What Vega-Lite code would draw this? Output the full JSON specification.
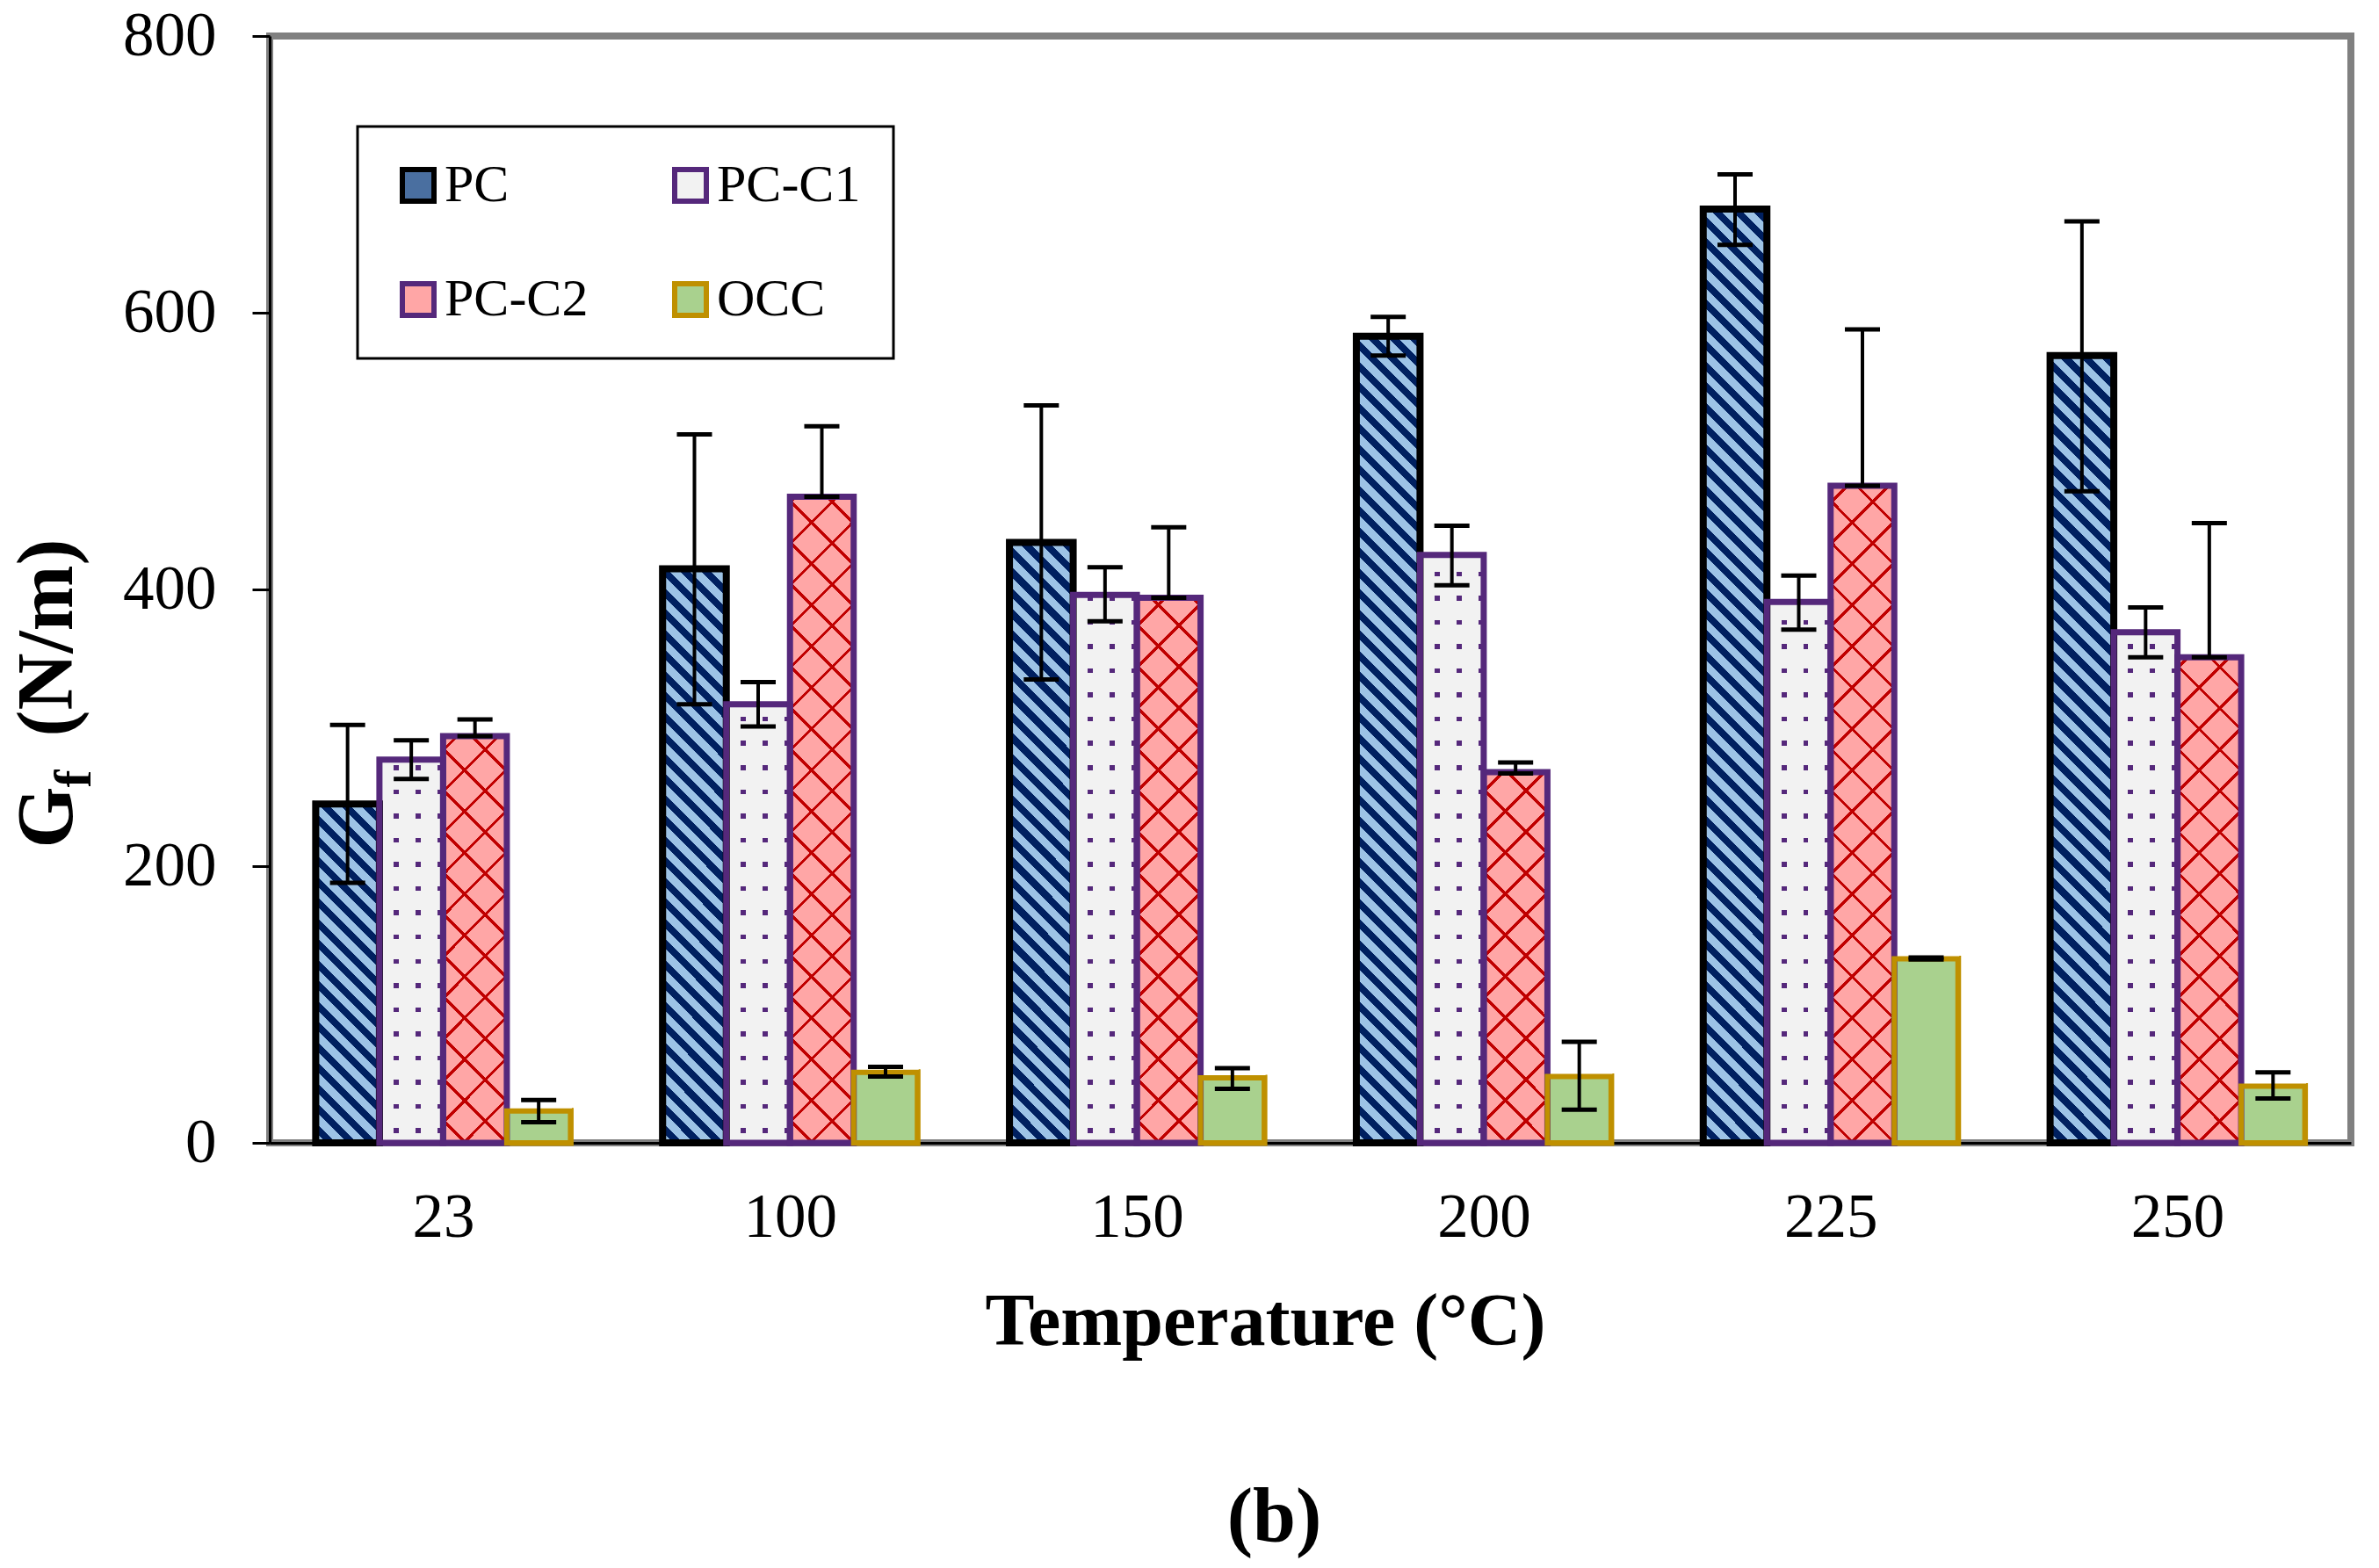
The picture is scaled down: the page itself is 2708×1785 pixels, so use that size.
{
"$schema": "https://vega.github.io/schema/vega-lite/v6.json",
"width": 2369, "height": 1260,
"autosize": {"type": "none"},
"padding": {"left": 307, "top": 41, "right": 32, "bottom": 484},
"background": "white",
"title": {"text": "(b)", "orient": "bottom", "anchor": "middle", "frame": "group", "dx": -41, "offset": 138, "font": "Liberation Serif", "fontSize": 88, "fontWeight": "bold", "color": "black"},
"data": {"values": [
{"T":"23","series":"PC","value":245,"lo":188,"hi":302},
{"T":"23","series":"PC-C1","value":277,"lo":263,"hi":291},
{"T":"23","series":"PC-C2","value":294,"lo":294,"hi":306},
{"T":"23","series":"OCC","value":23,"lo":15,"hi":31},
{"T":"100","series":"PC","value":415,"lo":317,"hi":512},
{"T":"100","series":"PC-C1","value":317,"lo":301,"hi":333},
{"T":"100","series":"PC-C2","value":467,"lo":467,"hi":518},
{"T":"100","series":"OCC","value":51,"lo":48,"hi":55},
{"T":"150","series":"PC","value":434,"lo":335,"hi":533},
{"T":"150","series":"PC-C1","value":396,"lo":377,"hi":416},
{"T":"150","series":"PC-C2","value":394,"lo":394,"hi":445},
{"T":"150","series":"OCC","value":47,"lo":39,"hi":54},
{"T":"200","series":"PC","value":583,"lo":569,"hi":597},
{"T":"200","series":"PC-C1","value":425,"lo":403,"hi":446},
{"T":"200","series":"PC-C2","value":268,"lo":267,"hi":275},
{"T":"200","series":"OCC","value":48,"lo":24,"hi":73},
{"T":"225","series":"PC","value":675,"lo":649,"hi":700},
{"T":"225","series":"PC-C1","value":391,"lo":371,"hi":410},
{"T":"225","series":"PC-C2","value":475,"lo":475,"hi":588},
{"T":"225","series":"OCC","value":133,"lo":132.5,"hi":134},
{"T":"250","series":"PC","value":569,"lo":471,"hi":666},
{"T":"250","series":"PC-C1","value":369,"lo":351,"hi":387},
{"T":"250","series":"PC-C2","value":351,"lo":351,"hi":448},
{"T":"250","series":"OCC","value":41,"lo":32,"hi":51}
]},
"encoding": {
  "x": {"field": "T", "type": "nominal", "sort": ["23","100","150","200","225","250"],
        "scale": {"paddingInner": 0.2655, "paddingOuter": 0.1327},
        "axis": {"title": "Temperature (°C)", "labelAngle": 0, "tickBand": "extent", "tickSize": -20, "tickWidth": 3, "tickColor": "black",
                 "domainColor": "black", "domainWidth": 3, "labelFontSize": 71, "labelBaseline": "alphabetic", "labelPadding": 126,
                 "titleFontSize": 84, "titleFontWeight": "bold", "titleX": 1133, "titleY": 229, "titleAlign": "center", "titleBaseline": "alphabetic", "titleAngle": 0}},
  "xOffset": {"field": "series", "type": "nominal", "sort": ["PC","PC-C1","PC-C2","OCC"], "scale": {"paddingInner": 0, "paddingOuter": 0}}
},
"layer": [
{"layer": [
{"mark": {"type": "bar", "strokeWidth": 7, "opacity": 1},
 "encoding": {
   "y": {"field": "value", "type": "quantitative", "stack": null, "scale": {"domain": [0, 800], "nice": false},
         "axis": {"orient": "left", "title": "(N/m)", "values": [0,200,400,600,800], "tickSize": 20, "tickWidth": 3, "tickColor": "black",
                  "domainColor": "black", "domainWidth": 3, "labelFontSize": 71, "labelPadding": 41, "grid": false,
                  "titleFontSize": 90, "titleFontWeight": "bold", "titleAngle": -90, "titleAlign": "left", "titleBaseline": "alphabetic",
                  "titleX": -226, "titleY": 797}},
   "fill": {"field": "series", "type": "nominal", "scale": {"domain": ["PC","PC-C1","PC-C2","OCC"], "range": ["#4A6FA0","#F2F2F2","#FFA6A6","#A9D18E"]},
            "legend": {"title": null, "orient": "none", "legendX": 100, "legendY": 103, "columns": 2, "direction": "horizontal", "symbolType": "square", "symbolSize": 1296, "symbolStrokeWidth": 6,
                       "labelFontSize": 60, "labelFont": "Liberation Serif", "labelColor": "black", "labelOffset": 0, "labelLimit": 400, "padding": 37, "symbolOffset": 2, "rowPadding": 70, "columnPadding": 84,
                       "strokeColor": "black", "fillColor": "white"}},
   "stroke": {"field": "series", "type": "nominal", "scale": {"domain": ["PC","PC-C1","PC-C2","OCC"], "range": ["#000000","#55287B","#55287B","#BF9000"]},
            "legend": {"title": null, "orient": "none", "legendX": 100, "legendY": 103, "columns": 2, "direction": "horizontal", "symbolType": "square", "symbolSize": 1296, "symbolStrokeWidth": 6,
                       "labelFontSize": 60, "labelFont": "Liberation Serif", "labelColor": "black", "labelOffset": 0, "labelLimit": 400, "padding": 37, "symbolOffset": 2, "rowPadding": 70, "columnPadding": 84,
                       "strokeColor": "black", "fillColor": "white"}}
 }},
{"transform": [{"filter": "datum.series === 'PC'"}],
 "mark": {"type": "bar", "strokeWidth": 0, "fill": {"gradient": "linear", "x1": 1, "y1": 0, "x2": 0.9301, "y2": 1.0613, "stops": [
{"offset":0,"color":"#002060"},{"offset":0.0095,"color":"#002060"},{"offset":0.0095,"color":"#9DC3E6"},{"offset":0.02,"color":"#9DC3E6"},
{"offset":0.02,"color":"#002060"},{"offset":0.0295,"color":"#002060"},{"offset":0.0295,"color":"#9DC3E6"},{"offset":0.04,"color":"#9DC3E6"},
{"offset":0.04,"color":"#002060"},{"offset":0.0495,"color":"#002060"},{"offset":0.0495,"color":"#9DC3E6"},{"offset":0.06,"color":"#9DC3E6"},
{"offset":0.06,"color":"#002060"},{"offset":0.0695,"color":"#002060"},{"offset":0.0695,"color":"#9DC3E6"},{"offset":0.08,"color":"#9DC3E6"},
{"offset":0.08,"color":"#002060"},{"offset":0.0895,"color":"#002060"},{"offset":0.0895,"color":"#9DC3E6"},{"offset":0.1,"color":"#9DC3E6"},
{"offset":0.1,"color":"#002060"},{"offset":0.1095,"color":"#002060"},{"offset":0.1095,"color":"#9DC3E6"},{"offset":0.12,"color":"#9DC3E6"},
{"offset":0.12,"color":"#002060"},{"offset":0.1295,"color":"#002060"},{"offset":0.1295,"color":"#9DC3E6"},{"offset":0.14,"color":"#9DC3E6"},
{"offset":0.14,"color":"#002060"},{"offset":0.1495,"color":"#002060"},{"offset":0.1495,"color":"#9DC3E6"},{"offset":0.16,"color":"#9DC3E6"},
{"offset":0.16,"color":"#002060"},{"offset":0.1695,"color":"#002060"},{"offset":0.1695,"color":"#9DC3E6"},{"offset":0.18,"color":"#9DC3E6"},
{"offset":0.18,"color":"#002060"},{"offset":0.1895,"color":"#002060"},{"offset":0.1895,"color":"#9DC3E6"},{"offset":0.2,"color":"#9DC3E6"},
{"offset":0.2,"color":"#002060"},{"offset":0.2095,"color":"#002060"},{"offset":0.2095,"color":"#9DC3E6"},{"offset":0.22,"color":"#9DC3E6"},
{"offset":0.22,"color":"#002060"},{"offset":0.2295,"color":"#002060"},{"offset":0.2295,"color":"#9DC3E6"},{"offset":0.24,"color":"#9DC3E6"},
{"offset":0.24,"color":"#002060"},{"offset":0.2495,"color":"#002060"},{"offset":0.2495,"color":"#9DC3E6"},{"offset":0.26,"color":"#9DC3E6"},
{"offset":0.26,"color":"#002060"},{"offset":0.2695,"color":"#002060"},{"offset":0.2695,"color":"#9DC3E6"},{"offset":0.28,"color":"#9DC3E6"},
{"offset":0.28,"color":"#002060"},{"offset":0.2895,"color":"#002060"},{"offset":0.2895,"color":"#9DC3E6"},{"offset":0.3,"color":"#9DC3E6"},
{"offset":0.3,"color":"#002060"},{"offset":0.3095,"color":"#002060"},{"offset":0.3095,"color":"#9DC3E6"},{"offset":0.32,"color":"#9DC3E6"},
{"offset":0.32,"color":"#002060"},{"offset":0.3295,"color":"#002060"},{"offset":0.3295,"color":"#9DC3E6"},{"offset":0.34,"color":"#9DC3E6"},
{"offset":0.34,"color":"#002060"},{"offset":0.3495,"color":"#002060"},{"offset":0.3495,"color":"#9DC3E6"},{"offset":0.36,"color":"#9DC3E6"},
{"offset":0.36,"color":"#002060"},{"offset":0.3695,"color":"#002060"},{"offset":0.3695,"color":"#9DC3E6"},{"offset":0.38,"color":"#9DC3E6"},
{"offset":0.38,"color":"#002060"},{"offset":0.3895,"color":"#002060"},{"offset":0.3895,"color":"#9DC3E6"},{"offset":0.4,"color":"#9DC3E6"},
{"offset":0.4,"color":"#002060"},{"offset":0.4095,"color":"#002060"},{"offset":0.4095,"color":"#9DC3E6"},{"offset":0.42,"color":"#9DC3E6"},
{"offset":0.42,"color":"#002060"},{"offset":0.4295,"color":"#002060"},{"offset":0.4295,"color":"#9DC3E6"},{"offset":0.44,"color":"#9DC3E6"},
{"offset":0.44,"color":"#002060"},{"offset":0.4495,"color":"#002060"},{"offset":0.4495,"color":"#9DC3E6"},{"offset":0.46,"color":"#9DC3E6"},
{"offset":0.46,"color":"#002060"},{"offset":0.4695,"color":"#002060"},{"offset":0.4695,"color":"#9DC3E6"},{"offset":0.48,"color":"#9DC3E6"},
{"offset":0.48,"color":"#002060"},{"offset":0.4895,"color":"#002060"},{"offset":0.4895,"color":"#9DC3E6"},{"offset":0.5,"color":"#9DC3E6"},
{"offset":0.5,"color":"#002060"},{"offset":0.5095,"color":"#002060"},{"offset":0.5095,"color":"#9DC3E6"},{"offset":0.52,"color":"#9DC3E6"},
{"offset":0.52,"color":"#002060"},{"offset":0.5295,"color":"#002060"},{"offset":0.5295,"color":"#9DC3E6"},{"offset":0.54,"color":"#9DC3E6"},
{"offset":0.54,"color":"#002060"},{"offset":0.5495,"color":"#002060"},{"offset":0.5495,"color":"#9DC3E6"},{"offset":0.56,"color":"#9DC3E6"},
{"offset":0.56,"color":"#002060"},{"offset":0.5695,"color":"#002060"},{"offset":0.5695,"color":"#9DC3E6"},{"offset":0.58,"color":"#9DC3E6"},
{"offset":0.58,"color":"#002060"},{"offset":0.5895,"color":"#002060"},{"offset":0.5895,"color":"#9DC3E6"},{"offset":0.6,"color":"#9DC3E6"},
{"offset":0.6,"color":"#002060"},{"offset":0.6095,"color":"#002060"},{"offset":0.6095,"color":"#9DC3E6"},{"offset":0.62,"color":"#9DC3E6"},
{"offset":0.62,"color":"#002060"},{"offset":0.6295,"color":"#002060"},{"offset":0.6295,"color":"#9DC3E6"},{"offset":0.64,"color":"#9DC3E6"},
{"offset":0.64,"color":"#002060"},{"offset":0.6495,"color":"#002060"},{"offset":0.6495,"color":"#9DC3E6"},{"offset":0.66,"color":"#9DC3E6"},
{"offset":0.66,"color":"#002060"},{"offset":0.6695,"color":"#002060"},{"offset":0.6695,"color":"#9DC3E6"},{"offset":0.68,"color":"#9DC3E6"},
{"offset":0.68,"color":"#002060"},{"offset":0.6895,"color":"#002060"},{"offset":0.6895,"color":"#9DC3E6"},{"offset":0.7,"color":"#9DC3E6"},
{"offset":0.7,"color":"#002060"},{"offset":0.7095,"color":"#002060"},{"offset":0.7095,"color":"#9DC3E6"},{"offset":0.72,"color":"#9DC3E6"},
{"offset":0.72,"color":"#002060"},{"offset":0.7295,"color":"#002060"},{"offset":0.7295,"color":"#9DC3E6"},{"offset":0.74,"color":"#9DC3E6"},
{"offset":0.74,"color":"#002060"},{"offset":0.7495,"color":"#002060"},{"offset":0.7495,"color":"#9DC3E6"},{"offset":0.76,"color":"#9DC3E6"},
{"offset":0.76,"color":"#002060"},{"offset":0.7695,"color":"#002060"},{"offset":0.7695,"color":"#9DC3E6"},{"offset":0.78,"color":"#9DC3E6"},
{"offset":0.78,"color":"#002060"},{"offset":0.7895,"color":"#002060"},{"offset":0.7895,"color":"#9DC3E6"},{"offset":0.8,"color":"#9DC3E6"},
{"offset":0.8,"color":"#002060"},{"offset":0.8095,"color":"#002060"},{"offset":0.8095,"color":"#9DC3E6"},{"offset":0.82,"color":"#9DC3E6"},
{"offset":0.82,"color":"#002060"},{"offset":0.8295,"color":"#002060"},{"offset":0.8295,"color":"#9DC3E6"},{"offset":0.84,"color":"#9DC3E6"},
{"offset":0.84,"color":"#002060"},{"offset":0.8495,"color":"#002060"},{"offset":0.8495,"color":"#9DC3E6"},{"offset":0.86,"color":"#9DC3E6"},
{"offset":0.86,"color":"#002060"},{"offset":0.8695,"color":"#002060"},{"offset":0.8695,"color":"#9DC3E6"},{"offset":0.88,"color":"#9DC3E6"},
{"offset":0.88,"color":"#002060"},{"offset":0.8895,"color":"#002060"},{"offset":0.8895,"color":"#9DC3E6"},{"offset":0.9,"color":"#9DC3E6"},
{"offset":0.9,"color":"#002060"},{"offset":0.9095,"color":"#002060"},{"offset":0.9095,"color":"#9DC3E6"},{"offset":0.92,"color":"#9DC3E6"},
{"offset":0.92,"color":"#002060"},{"offset":0.9295,"color":"#002060"},{"offset":0.9295,"color":"#9DC3E6"},{"offset":0.94,"color":"#9DC3E6"},
{"offset":0.94,"color":"#002060"},{"offset":0.9495,"color":"#002060"},{"offset":0.9495,"color":"#9DC3E6"},{"offset":0.96,"color":"#9DC3E6"},
{"offset":0.96,"color":"#002060"},{"offset":0.9695,"color":"#002060"},{"offset":0.9695,"color":"#9DC3E6"},{"offset":0.98,"color":"#9DC3E6"},
{"offset":0.98,"color":"#002060"},{"offset":0.9895,"color":"#002060"},{"offset":0.9895,"color":"#9DC3E6"},{"offset":1,"color":"#9DC3E6"}
 ]}},
 "encoding": {"y": {"datum": 700, "type": "quantitative"}, "y2": {"datum": 0}}},
{"transform": [{"filter": "datum.series === 'PC-C1'"}],
 "mark": {"type": "bar", "strokeWidth": 0, "fill": {"gradient": "linear", "x1": 0, "y1": 0, "x2": 1, "y2": 0, "stops": [
{"offset":0,"color":"#F2F2F2"},{"offset":0.2245,"color":"#F2F2F2"},{"offset":0.2245,"color":"#55287B"},{"offset":0.3072,"color":"#55287B"},{"offset":0.3072,"color":"#F2F2F2"},
{"offset":0.569,"color":"#F2F2F2"},{"offset":0.569,"color":"#55287B"},{"offset":0.6515,"color":"#55287B"},{"offset":0.6515,"color":"#F2F2F2"},
{"offset":0.913,"color":"#F2F2F2"},{"offset":0.913,"color":"#55287B"},{"offset":0.996,"color":"#55287B"},{"offset":0.996,"color":"#F2F2F2"},{"offset":1,"color":"#F2F2F2"}
 ]}},
 "encoding": {"y": {"datum": 700, "type": "quantitative"}, "y2": {"datum": 0}}},
{"transform": [{"filter": "datum.series === 'PC-C1'"}],
 "mark": {"type": "bar", "strokeWidth": 0, "fill": {"gradient": "linear", "x1": 0, "y1": 0, "x2": 0, "y2": 1, "stops": [
{"offset":0,"color":"#F2F2F2"},
{"offset":0.01,"color":"#F2F2F2"},{"offset":0.01,"color":"rgba(242,242,242,0)"},{"offset":0.015,"color":"rgba(242,242,242,0)"},{"offset":0.015,"color":"#F2F2F2"},
{"offset":0.035,"color":"#F2F2F2"},{"offset":0.035,"color":"rgba(242,242,242,0)"},{"offset":0.04,"color":"rgba(242,242,242,0)"},{"offset":0.04,"color":"#F2F2F2"},
{"offset":0.06,"color":"#F2F2F2"},{"offset":0.06,"color":"rgba(242,242,242,0)"},{"offset":0.065,"color":"rgba(242,242,242,0)"},{"offset":0.065,"color":"#F2F2F2"},
{"offset":0.085,"color":"#F2F2F2"},{"offset":0.085,"color":"rgba(242,242,242,0)"},{"offset":0.09,"color":"rgba(242,242,242,0)"},{"offset":0.09,"color":"#F2F2F2"},
{"offset":0.11,"color":"#F2F2F2"},{"offset":0.11,"color":"rgba(242,242,242,0)"},{"offset":0.115,"color":"rgba(242,242,242,0)"},{"offset":0.115,"color":"#F2F2F2"},
{"offset":0.135,"color":"#F2F2F2"},{"offset":0.135,"color":"rgba(242,242,242,0)"},{"offset":0.14,"color":"rgba(242,242,242,0)"},{"offset":0.14,"color":"#F2F2F2"},
{"offset":0.16,"color":"#F2F2F2"},{"offset":0.16,"color":"rgba(242,242,242,0)"},{"offset":0.165,"color":"rgba(242,242,242,0)"},{"offset":0.165,"color":"#F2F2F2"},
{"offset":0.185,"color":"#F2F2F2"},{"offset":0.185,"color":"rgba(242,242,242,0)"},{"offset":0.19,"color":"rgba(242,242,242,0)"},{"offset":0.19,"color":"#F2F2F2"},
{"offset":0.21,"color":"#F2F2F2"},{"offset":0.21,"color":"rgba(242,242,242,0)"},{"offset":0.215,"color":"rgba(242,242,242,0)"},{"offset":0.215,"color":"#F2F2F2"},
{"offset":0.235,"color":"#F2F2F2"},{"offset":0.235,"color":"rgba(242,242,242,0)"},{"offset":0.24,"color":"rgba(242,242,242,0)"},{"offset":0.24,"color":"#F2F2F2"},
{"offset":0.26,"color":"#F2F2F2"},{"offset":0.26,"color":"rgba(242,242,242,0)"},{"offset":0.265,"color":"rgba(242,242,242,0)"},{"offset":0.265,"color":"#F2F2F2"},
{"offset":0.285,"color":"#F2F2F2"},{"offset":0.285,"color":"rgba(242,242,242,0)"},{"offset":0.29,"color":"rgba(242,242,242,0)"},{"offset":0.29,"color":"#F2F2F2"},
{"offset":0.31,"color":"#F2F2F2"},{"offset":0.31,"color":"rgba(242,242,242,0)"},{"offset":0.315,"color":"rgba(242,242,242,0)"},{"offset":0.315,"color":"#F2F2F2"},
{"offset":0.335,"color":"#F2F2F2"},{"offset":0.335,"color":"rgba(242,242,242,0)"},{"offset":0.34,"color":"rgba(242,242,242,0)"},{"offset":0.34,"color":"#F2F2F2"},
{"offset":0.36,"color":"#F2F2F2"},{"offset":0.36,"color":"rgba(242,242,242,0)"},{"offset":0.365,"color":"rgba(242,242,242,0)"},{"offset":0.365,"color":"#F2F2F2"},
{"offset":0.385,"color":"#F2F2F2"},{"offset":0.385,"color":"rgba(242,242,242,0)"},{"offset":0.39,"color":"rgba(242,242,242,0)"},{"offset":0.39,"color":"#F2F2F2"},
{"offset":0.41,"color":"#F2F2F2"},{"offset":0.41,"color":"rgba(242,242,242,0)"},{"offset":0.415,"color":"rgba(242,242,242,0)"},{"offset":0.415,"color":"#F2F2F2"},
{"offset":0.435,"color":"#F2F2F2"},{"offset":0.435,"color":"rgba(242,242,242,0)"},{"offset":0.44,"color":"rgba(242,242,242,0)"},{"offset":0.44,"color":"#F2F2F2"},
{"offset":0.46,"color":"#F2F2F2"},{"offset":0.46,"color":"rgba(242,242,242,0)"},{"offset":0.465,"color":"rgba(242,242,242,0)"},{"offset":0.465,"color":"#F2F2F2"},
{"offset":0.485,"color":"#F2F2F2"},{"offset":0.485,"color":"rgba(242,242,242,0)"},{"offset":0.49,"color":"rgba(242,242,242,0)"},{"offset":0.49,"color":"#F2F2F2"},
{"offset":0.51,"color":"#F2F2F2"},{"offset":0.51,"color":"rgba(242,242,242,0)"},{"offset":0.515,"color":"rgba(242,242,242,0)"},{"offset":0.515,"color":"#F2F2F2"},
{"offset":0.535,"color":"#F2F2F2"},{"offset":0.535,"color":"rgba(242,242,242,0)"},{"offset":0.54,"color":"rgba(242,242,242,0)"},{"offset":0.54,"color":"#F2F2F2"},
{"offset":0.56,"color":"#F2F2F2"},{"offset":0.56,"color":"rgba(242,242,242,0)"},{"offset":0.565,"color":"rgba(242,242,242,0)"},{"offset":0.565,"color":"#F2F2F2"},
{"offset":0.585,"color":"#F2F2F2"},{"offset":0.585,"color":"rgba(242,242,242,0)"},{"offset":0.59,"color":"rgba(242,242,242,0)"},{"offset":0.59,"color":"#F2F2F2"},
{"offset":0.61,"color":"#F2F2F2"},{"offset":0.61,"color":"rgba(242,242,242,0)"},{"offset":0.615,"color":"rgba(242,242,242,0)"},{"offset":0.615,"color":"#F2F2F2"},
{"offset":0.635,"color":"#F2F2F2"},{"offset":0.635,"color":"rgba(242,242,242,0)"},{"offset":0.64,"color":"rgba(242,242,242,0)"},{"offset":0.64,"color":"#F2F2F2"},
{"offset":0.66,"color":"#F2F2F2"},{"offset":0.66,"color":"rgba(242,242,242,0)"},{"offset":0.665,"color":"rgba(242,242,242,0)"},{"offset":0.665,"color":"#F2F2F2"},
{"offset":0.685,"color":"#F2F2F2"},{"offset":0.685,"color":"rgba(242,242,242,0)"},{"offset":0.69,"color":"rgba(242,242,242,0)"},{"offset":0.69,"color":"#F2F2F2"},
{"offset":0.71,"color":"#F2F2F2"},{"offset":0.71,"color":"rgba(242,242,242,0)"},{"offset":0.715,"color":"rgba(242,242,242,0)"},{"offset":0.715,"color":"#F2F2F2"},
{"offset":0.735,"color":"#F2F2F2"},{"offset":0.735,"color":"rgba(242,242,242,0)"},{"offset":0.74,"color":"rgba(242,242,242,0)"},{"offset":0.74,"color":"#F2F2F2"},
{"offset":0.76,"color":"#F2F2F2"},{"offset":0.76,"color":"rgba(242,242,242,0)"},{"offset":0.765,"color":"rgba(242,242,242,0)"},{"offset":0.765,"color":"#F2F2F2"},
{"offset":0.785,"color":"#F2F2F2"},{"offset":0.785,"color":"rgba(242,242,242,0)"},{"offset":0.79,"color":"rgba(242,242,242,0)"},{"offset":0.79,"color":"#F2F2F2"},
{"offset":0.81,"color":"#F2F2F2"},{"offset":0.81,"color":"rgba(242,242,242,0)"},{"offset":0.815,"color":"rgba(242,242,242,0)"},{"offset":0.815,"color":"#F2F2F2"},
{"offset":0.835,"color":"#F2F2F2"},{"offset":0.835,"color":"rgba(242,242,242,0)"},{"offset":0.84,"color":"rgba(242,242,242,0)"},{"offset":0.84,"color":"#F2F2F2"},
{"offset":0.86,"color":"#F2F2F2"},{"offset":0.86,"color":"rgba(242,242,242,0)"},{"offset":0.865,"color":"rgba(242,242,242,0)"},{"offset":0.865,"color":"#F2F2F2"},
{"offset":0.885,"color":"#F2F2F2"},{"offset":0.885,"color":"rgba(242,242,242,0)"},{"offset":0.89,"color":"rgba(242,242,242,0)"},{"offset":0.89,"color":"#F2F2F2"},
{"offset":0.91,"color":"#F2F2F2"},{"offset":0.91,"color":"rgba(242,242,242,0)"},{"offset":0.915,"color":"rgba(242,242,242,0)"},{"offset":0.915,"color":"#F2F2F2"},
{"offset":0.935,"color":"#F2F2F2"},{"offset":0.935,"color":"rgba(242,242,242,0)"},{"offset":0.94,"color":"rgba(242,242,242,0)"},{"offset":0.94,"color":"#F2F2F2"},
{"offset":0.96,"color":"#F2F2F2"},{"offset":0.96,"color":"rgba(242,242,242,0)"},{"offset":0.965,"color":"rgba(242,242,242,0)"},{"offset":0.965,"color":"#F2F2F2"},
{"offset":0.985,"color":"#F2F2F2"},{"offset":0.985,"color":"rgba(242,242,242,0)"},{"offset":0.99,"color":"rgba(242,242,242,0)"},{"offset":0.99,"color":"#F2F2F2"},
{"offset":1,"color":"#F2F2F2"}
 ]}},
 "encoding": {"y": {"datum": 700, "type": "quantitative"}, "y2": {"datum": 0}}},
{"transform": [{"filter": "datum.series === 'OCC'"}],
 "mark": {"type": "bar", "strokeWidth": 0, "fill": "#A9D18E"},
 "encoding": {"y": {"datum": 700, "type": "quantitative"}, "y2": {"datum": 0}}},
{"transform": [{"filter": "datum.series === 'PC-C2'"}],
 "mark": {"type": "bar", "strokeWidth": 0, "fill": {"gradient": "linear", "x1": 0, "y1": 0, "x2": 0.0699, "y2": 1.0613, "stops": [
{"offset":0,"color":"#FFA6A6"},{"offset":0.036,"color":"#FFA6A6"},{"offset":0.036,"color":"#C00000"},{"offset":0.04,"color":"#C00000"},
{"offset":0.04,"color":"#FFA6A6"},{"offset":0.076,"color":"#FFA6A6"},{"offset":0.076,"color":"#C00000"},{"offset":0.08,"color":"#C00000"},
{"offset":0.08,"color":"#FFA6A6"},{"offset":0.116,"color":"#FFA6A6"},{"offset":0.116,"color":"#C00000"},{"offset":0.12,"color":"#C00000"},
{"offset":0.12,"color":"#FFA6A6"},{"offset":0.156,"color":"#FFA6A6"},{"offset":0.156,"color":"#C00000"},{"offset":0.16,"color":"#C00000"},
{"offset":0.16,"color":"#FFA6A6"},{"offset":0.196,"color":"#FFA6A6"},{"offset":0.196,"color":"#C00000"},{"offset":0.2,"color":"#C00000"},
{"offset":0.2,"color":"#FFA6A6"},{"offset":0.236,"color":"#FFA6A6"},{"offset":0.236,"color":"#C00000"},{"offset":0.24,"color":"#C00000"},
{"offset":0.24,"color":"#FFA6A6"},{"offset":0.276,"color":"#FFA6A6"},{"offset":0.276,"color":"#C00000"},{"offset":0.28,"color":"#C00000"},
{"offset":0.28,"color":"#FFA6A6"},{"offset":0.316,"color":"#FFA6A6"},{"offset":0.316,"color":"#C00000"},{"offset":0.32,"color":"#C00000"},
{"offset":0.32,"color":"#FFA6A6"},{"offset":0.356,"color":"#FFA6A6"},{"offset":0.356,"color":"#C00000"},{"offset":0.36,"color":"#C00000"},
{"offset":0.36,"color":"#FFA6A6"},{"offset":0.396,"color":"#FFA6A6"},{"offset":0.396,"color":"#C00000"},{"offset":0.4,"color":"#C00000"},
{"offset":0.4,"color":"#FFA6A6"},{"offset":0.436,"color":"#FFA6A6"},{"offset":0.436,"color":"#C00000"},{"offset":0.44,"color":"#C00000"},
{"offset":0.44,"color":"#FFA6A6"},{"offset":0.476,"color":"#FFA6A6"},{"offset":0.476,"color":"#C00000"},{"offset":0.48,"color":"#C00000"},
{"offset":0.48,"color":"#FFA6A6"},{"offset":0.516,"color":"#FFA6A6"},{"offset":0.516,"color":"#C00000"},{"offset":0.52,"color":"#C00000"},
{"offset":0.52,"color":"#FFA6A6"},{"offset":0.556,"color":"#FFA6A6"},{"offset":0.556,"color":"#C00000"},{"offset":0.56,"color":"#C00000"},
{"offset":0.56,"color":"#FFA6A6"},{"offset":0.596,"color":"#FFA6A6"},{"offset":0.596,"color":"#C00000"},{"offset":0.6,"color":"#C00000"},
{"offset":0.6,"color":"#FFA6A6"},{"offset":0.636,"color":"#FFA6A6"},{"offset":0.636,"color":"#C00000"},{"offset":0.64,"color":"#C00000"},
{"offset":0.64,"color":"#FFA6A6"},{"offset":0.676,"color":"#FFA6A6"},{"offset":0.676,"color":"#C00000"},{"offset":0.68,"color":"#C00000"},
{"offset":0.68,"color":"#FFA6A6"},{"offset":0.716,"color":"#FFA6A6"},{"offset":0.716,"color":"#C00000"},{"offset":0.72,"color":"#C00000"},
{"offset":0.72,"color":"#FFA6A6"},{"offset":0.756,"color":"#FFA6A6"},{"offset":0.756,"color":"#C00000"},{"offset":0.76,"color":"#C00000"},
{"offset":0.76,"color":"#FFA6A6"},{"offset":0.796,"color":"#FFA6A6"},{"offset":0.796,"color":"#C00000"},{"offset":0.8,"color":"#C00000"},
{"offset":0.8,"color":"#FFA6A6"},{"offset":0.836,"color":"#FFA6A6"},{"offset":0.836,"color":"#C00000"},{"offset":0.84,"color":"#C00000"},
{"offset":0.84,"color":"#FFA6A6"},{"offset":0.876,"color":"#FFA6A6"},{"offset":0.876,"color":"#C00000"},{"offset":0.88,"color":"#C00000"},
{"offset":0.88,"color":"#FFA6A6"},{"offset":0.916,"color":"#FFA6A6"},{"offset":0.916,"color":"#C00000"},{"offset":0.92,"color":"#C00000"},
{"offset":0.92,"color":"#FFA6A6"},{"offset":0.956,"color":"#FFA6A6"},{"offset":0.956,"color":"#C00000"},{"offset":0.96,"color":"#C00000"},
{"offset":0.96,"color":"#FFA6A6"},{"offset":0.996,"color":"#FFA6A6"},{"offset":0.996,"color":"#C00000"},{"offset":1,"color":"#C00000"}
 ]}},
 "encoding": {"y": {"datum": 700, "type": "quantitative"}, "y2": {"datum": 0}}},
{"transform": [{"filter": "datum.series === 'PC-C2'"}],
 "mark": {"type": "bar", "strokeWidth": 0, "fill": {"gradient": "linear", "x1": 1, "y1": 0, "x2": 0.9301, "y2": 1.0613, "stops": [
{"offset":0,"color":"rgba(255,166,166,0)"},{"offset":0.016,"color":"rgba(255,166,166,0)"},{"offset":0.016,"color":"#C00000"},{"offset":0.02,"color":"#C00000"},{"offset":0.02,"color":"rgba(255,166,166,0)"},
{"offset":0.056,"color":"rgba(255,166,166,0)"},{"offset":0.056,"color":"#C00000"},{"offset":0.06,"color":"#C00000"},{"offset":0.06,"color":"rgba(255,166,166,0)"},
{"offset":0.096,"color":"rgba(255,166,166,0)"},{"offset":0.096,"color":"#C00000"},{"offset":0.1,"color":"#C00000"},{"offset":0.1,"color":"rgba(255,166,166,0)"},
{"offset":0.136,"color":"rgba(255,166,166,0)"},{"offset":0.136,"color":"#C00000"},{"offset":0.14,"color":"#C00000"},{"offset":0.14,"color":"rgba(255,166,166,0)"},
{"offset":0.176,"color":"rgba(255,166,166,0)"},{"offset":0.176,"color":"#C00000"},{"offset":0.18,"color":"#C00000"},{"offset":0.18,"color":"rgba(255,166,166,0)"},
{"offset":0.216,"color":"rgba(255,166,166,0)"},{"offset":0.216,"color":"#C00000"},{"offset":0.22,"color":"#C00000"},{"offset":0.22,"color":"rgba(255,166,166,0)"},
{"offset":0.256,"color":"rgba(255,166,166,0)"},{"offset":0.256,"color":"#C00000"},{"offset":0.26,"color":"#C00000"},{"offset":0.26,"color":"rgba(255,166,166,0)"},
{"offset":0.296,"color":"rgba(255,166,166,0)"},{"offset":0.296,"color":"#C00000"},{"offset":0.3,"color":"#C00000"},{"offset":0.3,"color":"rgba(255,166,166,0)"},
{"offset":0.336,"color":"rgba(255,166,166,0)"},{"offset":0.336,"color":"#C00000"},{"offset":0.34,"color":"#C00000"},{"offset":0.34,"color":"rgba(255,166,166,0)"},
{"offset":0.376,"color":"rgba(255,166,166,0)"},{"offset":0.376,"color":"#C00000"},{"offset":0.38,"color":"#C00000"},{"offset":0.38,"color":"rgba(255,166,166,0)"},
{"offset":0.416,"color":"rgba(255,166,166,0)"},{"offset":0.416,"color":"#C00000"},{"offset":0.42,"color":"#C00000"},{"offset":0.42,"color":"rgba(255,166,166,0)"},
{"offset":0.456,"color":"rgba(255,166,166,0)"},{"offset":0.456,"color":"#C00000"},{"offset":0.46,"color":"#C00000"},{"offset":0.46,"color":"rgba(255,166,166,0)"},
{"offset":0.496,"color":"rgba(255,166,166,0)"},{"offset":0.496,"color":"#C00000"},{"offset":0.5,"color":"#C00000"},{"offset":0.5,"color":"rgba(255,166,166,0)"},
{"offset":0.536,"color":"rgba(255,166,166,0)"},{"offset":0.536,"color":"#C00000"},{"offset":0.54,"color":"#C00000"},{"offset":0.54,"color":"rgba(255,166,166,0)"},
{"offset":0.576,"color":"rgba(255,166,166,0)"},{"offset":0.576,"color":"#C00000"},{"offset":0.58,"color":"#C00000"},{"offset":0.58,"color":"rgba(255,166,166,0)"},
{"offset":0.616,"color":"rgba(255,166,166,0)"},{"offset":0.616,"color":"#C00000"},{"offset":0.62,"color":"#C00000"},{"offset":0.62,"color":"rgba(255,166,166,0)"},
{"offset":0.656,"color":"rgba(255,166,166,0)"},{"offset":0.656,"color":"#C00000"},{"offset":0.66,"color":"#C00000"},{"offset":0.66,"color":"rgba(255,166,166,0)"},
{"offset":0.696,"color":"rgba(255,166,166,0)"},{"offset":0.696,"color":"#C00000"},{"offset":0.7,"color":"#C00000"},{"offset":0.7,"color":"rgba(255,166,166,0)"},
{"offset":0.736,"color":"rgba(255,166,166,0)"},{"offset":0.736,"color":"#C00000"},{"offset":0.74,"color":"#C00000"},{"offset":0.74,"color":"rgba(255,166,166,0)"},
{"offset":0.776,"color":"rgba(255,166,166,0)"},{"offset":0.776,"color":"#C00000"},{"offset":0.78,"color":"#C00000"},{"offset":0.78,"color":"rgba(255,166,166,0)"},
{"offset":0.816,"color":"rgba(255,166,166,0)"},{"offset":0.816,"color":"#C00000"},{"offset":0.82,"color":"#C00000"},{"offset":0.82,"color":"rgba(255,166,166,0)"},
{"offset":0.856,"color":"rgba(255,166,166,0)"},{"offset":0.856,"color":"#C00000"},{"offset":0.86,"color":"#C00000"},{"offset":0.86,"color":"rgba(255,166,166,0)"},
{"offset":0.896,"color":"rgba(255,166,166,0)"},{"offset":0.896,"color":"#C00000"},{"offset":0.9,"color":"#C00000"},{"offset":0.9,"color":"rgba(255,166,166,0)"},
{"offset":0.936,"color":"rgba(255,166,166,0)"},{"offset":0.936,"color":"#C00000"},{"offset":0.94,"color":"#C00000"},{"offset":0.94,"color":"rgba(255,166,166,0)"},
{"offset":0.976,"color":"rgba(255,166,166,0)"},{"offset":0.976,"color":"#C00000"},{"offset":0.98,"color":"#C00000"},{"offset":0.98,"color":"rgba(255,166,166,0)"},
{"offset":1,"color":"rgba(255,166,166,0)"}
 ]}},
 "encoding": {"y": {"datum": 700, "type": "quantitative"}, "y2": {"datum": 0}}},
{"mark": {"type": "bar", "strokeWidth": 3, "stroke": "white", "fill": "white"},
 "encoding": {"y": {"field": "value", "type": "quantitative"}, "y2": {"datum": 700}}},
{"mark": {"type": "bar", "fill": "transparent"},
 "encoding": {"y": {"field": "value", "type": "quantitative", "stack": null},
   "stroke": {"condition": [{"test": "datum.series === 'PC'", "value": "#000000"}, {"test": "datum.series === 'OCC'", "value": "#BF9000"}], "value": "#55287B"},
   "strokeWidth": {"condition": [{"test": "datum.series === 'PC'", "value": 8}, {"test": "datum.series === 'OCC'", "value": 6}], "value": 7}}},
{"mark": {"type": "tick", "color": "black", "size": 40, "thickness": 5, "opacity": 1},
 "encoding": {"y": {"field": "hi", "type": "quantitative"}}}
]},
{"mark": {"type": "rule", "color": "black", "strokeWidth": 4},
 "encoding": {"y": {"field": "lo", "type": "quantitative",
    "axis": {"orient": "left", "title": "G", "domain": false, "ticks": false, "labels": false, "grid": false,
             "titleFontSize": 90, "titleFontWeight": "bold", "titleAngle": -90, "titleAlign": "left", "titleBaseline": "alphabetic", "titleX": -226, "titleY": 924}},
   "y2": {"field": "hi"}}},
{"mark": {"type": "tick", "color": "black", "size": 40, "thickness": 5, "opacity": 1},
 "encoding": {"y": {"field": "lo", "type": "quantitative",
    "axis": {"orient": "left", "title": "f", "domain": false, "ticks": false, "labels": false, "grid": false,
             "titleFontSize": 60, "titleFontWeight": "bold", "titleAngle": -90, "titleAlign": "left", "titleBaseline": "alphabetic", "titleX": -205, "titleY": 855}}}}
],
"resolve": {"axis": {"y": "independent"}},
"config": {
  "view": {"stroke": "#808080", "strokeWidth": 8},
  "axis": {"grid": false, "labelFont": "Liberation Serif", "titleFont": "Liberation Serif", "labelColor": "black", "titleColor": "black"},
  "legend": {"strokeWidth": 3}
}
}
